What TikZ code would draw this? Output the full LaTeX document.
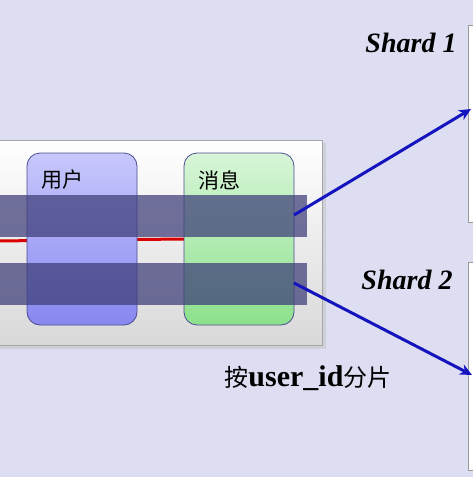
\documentclass[tikz,border=0pt]{standalone}
\usepackage{fontspec}
\setmainfont{Liberation Serif}
\newfontfamily\cjk{Noto Sans CJK SC}
\usetikzlibrary{arrows.meta,calc}
\definecolor{bgc}{RGB}{221,222,241}
\definecolor{bandc}{RGB}{60,60,120}
\definecolor{arrc}{RGB}{20,20,190}
\begin{document}
\begin{tikzpicture}[x=1pt,y=-1pt,
  colbox/.style={draw=black!60!blue!70, line width=0.8pt, rounded corners=13pt},
  band/.style={fill=bandc, fill opacity=0.72},
  shardbox/.style={draw=gray!80, fill=white, line width=0.8pt},
  arr/.style={draw=arrc, line width=3pt, -{Stealth[length=12pt,width=11pt]}},
  shardlbl/.style={font=\fontsize{28}{32}\selectfont\bfseries\itshape},
  collbl/.style={font=\cjk\fontsize{21}{25}\selectfont, anchor=west}]
\useasboundingbox (0,0) rectangle (473,477);
\fill[bgc] (0,0) rectangle (473,477);
% panel
\fill[gray!45, opacity=0.6] (-5,143) rectangle (326,349);
\shade[top color=white, bottom color=gray!30, draw=gray!70, line width=0.8pt] (-5,140) rectangle (322,345);
% red line
\draw[red!85!black, line width=3pt] (-5,241) -- (184,239);
% columns
\shade[colbox, top color={rgb,255:red,200;green,200;blue,252}, bottom color={rgb,255:red,135;green,135;blue,240}] (27,153) rectangle (137,325);
\node (user) at (82,239) {};
\shade[colbox, top color={rgb,255:red,215;green,245;blue,215}, bottom color={rgb,255:red,140;green,225;blue,140}] (184,153) rectangle (294,325);
\node (msg) at (239,239) {};
\node[collbl] (userlbl) at (38,180) {用户};
\node[collbl] (msglbl) at (195,180) {消息};
% bands
\fill[band] (-5,195) rectangle (307,237);
\fill[band] (-5,263) rectangle (307,305);
% shard boxes
\draw[shardbox] (468,25) rectangle (480,222);
\draw[shardbox] (468,262) rectangle (480,470);
\node (shard1) at (474,123) {};
\node (shard2) at (474,366) {};
\node[shardlbl] (s1lbl) at (411,43) {Shard 1};
\node[shardlbl] (s2lbl) at (407,280) {Shard 2};
% arrows
\coordinate (a1s) at (294,215);
\coordinate (a1e) at (471,109);
\coordinate (a2s) at (294,283);
\coordinate (a2e) at (472,375);
\draw[arr] (a1s) -- (a1e);
\draw[arr] (a2s) -- (a2e);
% caption
\node (cap) at (308,378) {{\cjk\fontsize{24}{28}\selectfont 按}{\fontsize{30}{34}\selectfont\bfseries user\_id}{\cjk\fontsize{24}{28}\selectfont 分片}};
\end{tikzpicture}
\end{document}
